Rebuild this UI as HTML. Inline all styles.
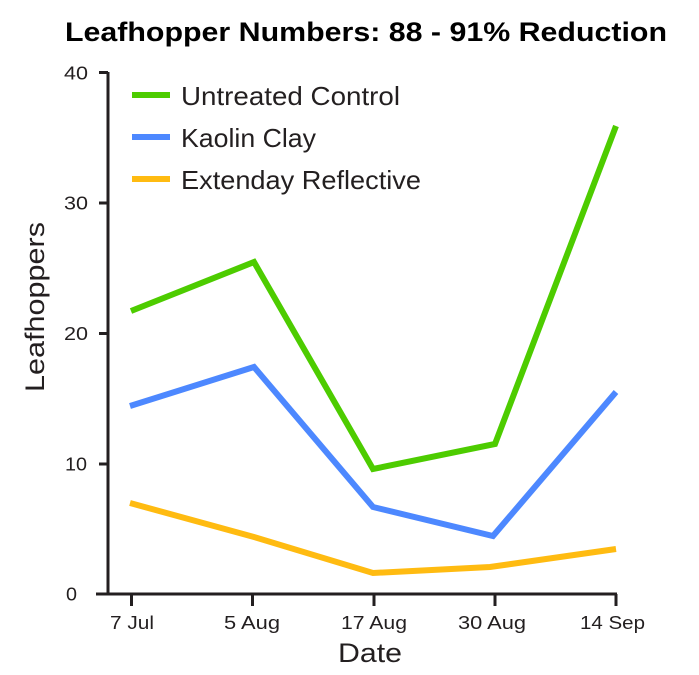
<!DOCTYPE html>
<html>
<head>
<meta charset="utf-8">
<style>
html,body{margin:0;padding:0;background:#fff;}
svg{display:block;}
text{font-family:"Liberation Sans",sans-serif;fill:#231f20;}
</style>
</head>
<body>
<svg width="699" height="675" viewBox="0 0 699 675" xmlns="http://www.w3.org/2000/svg">
<rect width="699" height="675" fill="#fff"/>
<!-- title -->
<text x="65" y="41" font-size="27" font-weight="bold" fill="#000" style="fill:#000" textLength="602" lengthAdjust="spacingAndGlyphs">Leafhopper Numbers: 88 - 91% Reduction</text>

<!-- axes -->
<g stroke="#231f20" stroke-width="3" fill="none">
<line x1="108" y1="72" x2="108" y2="595"/>
<line x1="96" y1="594" x2="617" y2="594"/>
<line x1="99" y1="72.5" x2="108" y2="72.5"/>
<line x1="99" y1="203" x2="108" y2="203"/>
<line x1="99" y1="333.5" x2="108" y2="333.5"/>
<line x1="99" y1="464" x2="108" y2="464"/>
<line x1="99" y1="594" x2="108" y2="594"/>
<line x1="131.5" y1="594" x2="131.5" y2="606"/>
<line x1="252.5" y1="594" x2="252.5" y2="606"/>
<line x1="374" y1="594" x2="374" y2="606"/>
<line x1="495" y1="594" x2="495" y2="606"/>
<line x1="616" y1="594" x2="616" y2="606"/>
</g>

<!-- y tick labels -->
<g font-size="18">
<text x="64" y="79.5" textLength="24" lengthAdjust="spacingAndGlyphs">40</text>
<text x="64" y="209.5" textLength="24" lengthAdjust="spacingAndGlyphs">30</text>
<text x="64" y="340" textLength="24" lengthAdjust="spacingAndGlyphs">20</text>
<text x="65" y="470.5" textLength="22" lengthAdjust="spacingAndGlyphs">10</text>
<text x="66" y="600.5" textLength="11" lengthAdjust="spacingAndGlyphs">0</text>
</g>
<!-- x tick labels -->
<g font-size="18">
<text x="110" y="629" textLength="44" lengthAdjust="spacingAndGlyphs">7 Jul</text>
<text x="224" y="629" textLength="56" lengthAdjust="spacingAndGlyphs">5 Aug</text>
<text x="341" y="629" textLength="66" lengthAdjust="spacingAndGlyphs">17 Aug</text>
<text x="458" y="629" textLength="68" lengthAdjust="spacingAndGlyphs">30 Aug</text>
<text x="580" y="629" textLength="65" lengthAdjust="spacingAndGlyphs">14 Sep</text>
</g>
<!-- axis titles -->
<text x="338" y="662" font-size="27" textLength="64" lengthAdjust="spacingAndGlyphs">Date</text>
<text transform="translate(44,392) rotate(-90)" font-size="27" textLength="170" lengthAdjust="spacingAndGlyphs">Leafhoppers</text>

<!-- series -->
<g fill="none" stroke-width="6" stroke-linejoin="miter">
<polyline stroke="#4dcc00" points="131,311 254,262 373,469 495,444 616,126"/>
<polyline stroke="#4d88ff" points="130,406 254,367 373,507 493,536 616,392"/>
<polyline stroke="#ffbb11" points="130,503 254,537 373,573 490,567 616,549"/>
</g>

<!-- legend -->
<g stroke-width="6">
<line x1="132" y1="95" x2="170" y2="95" stroke="#4dcc00"/>
<line x1="132" y1="137" x2="170" y2="137" stroke="#4d88ff"/>
<line x1="132" y1="179" x2="170" y2="179" stroke="#ffbb11"/>
</g>
<g font-size="26">
<text x="181" y="105" textLength="219" lengthAdjust="spacingAndGlyphs">Untreated Control</text>
<text x="181" y="147" textLength="135" lengthAdjust="spacingAndGlyphs">Kaolin Clay</text>
<text x="181" y="189" textLength="240" lengthAdjust="spacingAndGlyphs">Extenday Reflective</text>
</g>
</svg>
</body>
</html>
